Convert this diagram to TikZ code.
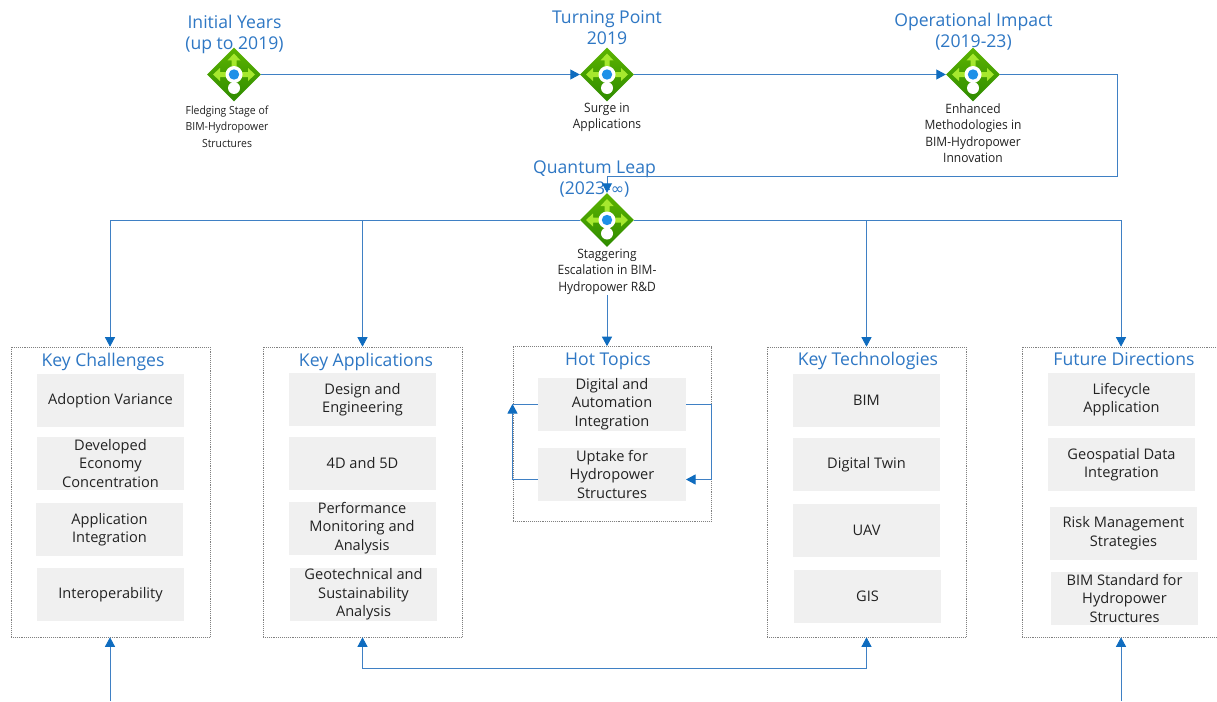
\documentclass[tikz,border=0pt]{standalone}
\usepackage{fontspec}
\setmainfont{Open Sans}
\newfontfamily\symfont{DejaVu Sans}
\newfontfamily\subfont[FakeStretch=0.93]{Open Sans}
\usetikzlibrary{arrows.meta,shapes.geometric}
\definecolor{linkblue}{HTML}{3F80C4}
\definecolor{tipblue}{HTML}{0F6CBF}
\definecolor{headblue}{HTML}{2E77C4}
\definecolor{inkdark}{HTML}{222222}
\definecolor{boxgray}{HTML}{F0F0F0}
\definecolor{frameg}{HTML}{808080}
\definecolor{leafg}{HTML}{A6E82E}
\definecolor{dotblue}{HTML}{1E90E8}
\definecolor{icontop}{HTML}{5CB400}
\definecolor{iconbot}{HTML}{2E8B00}
\tikzset{
  x=1pt,y=-1pt,
  link/.style={draw=linkblue,line width=0.9pt},
  linkarrow/.style={link,-{Triangle[length=9.5pt,width=10pt,color=tipblue]}},
  twoarrow/.style={link,{Triangle[length=9.5pt,width=10pt,color=tipblue]}-{Triangle[length=9.5pt,width=10pt,color=tipblue]}},
  head/.style={text=headblue,font=\fontsize{17.6}{21.5}\selectfont,align=center,inner sep=0pt},
  sub/.style={text=inkdark,font=\subfont\fontsize{11.2}{16.5}\selectfont,align=center,inner sep=0pt},
  bigsub/.style={sub,font=\subfont\fontsize{12.9}{16.5}\selectfont},
  frame/.style={draw=frameg,line width=0.6pt,dash pattern=on 1pt off 0.9pt,minimum width=199pt,inner sep=0pt},
  item/.style={fill=boxgray,text=inkdark,minimum width=147pt,minimum height=53pt,inner sep=0pt,align=center,
    font=\fontsize{14.6}{18.5}\selectfont},
  icon/.style={diamond,aspect=1,minimum width=54pt,minimum height=54pt,inner sep=0pt,
    top color=icontop,bottom color=iconbot,
    path picture={
      \fill[leafg] (-2.5,0) -- (-2.5,-14) -- (-6.5,-14) -- (0,-21) -- (6.5,-14) -- (2.5,-14) -- (2.5,0) -- cycle;
      \fill[leafg] (-14,-2.5) -- (-14,-6.5) -- (-21,0) -- (-14,6.5) -- (-14,2.5) -- (14,2.5) -- (14,6.5) -- (21,0) -- (14,-6.5) -- (14,-2.5) -- cycle;
      \fill[white] (0,0) circle[radius=8.5];
      \fill[white] (-2.2,5) rectangle (2.2,12);
      \fill[white] (0,13.5) circle[radius=6];
      \fill[dotblue] (0,0) circle[radius=5.2];
    }},
}
\begin{document}
\begin{tikzpicture}
\path[clip] (0,0) rectangle (1217,701);
\fill[white] (0,0) rectangle (1217,701);
% headings
\node[head] (h1) at (234.5,34.5) {Initial Years\\(up to 2019)};
\node[head] (h2) at (607,27.5) {Turning Point\\2019};
\node[head] (h3) at (973.5,31.5) {Operational Impact\\(2019-23)};
\node[head] (h4) at (594.5,179) {Quantum Leap\\(2023-{\symfont\fontsize{16}{21.5}\selectfont ∞})};
% sub labels
\node[sub] (s1) at (227,126.5) {Fledging Stage of\\BIM-Hydropower\\Structures};
\node[bigsub] (s2) at (607,117.5) {Surge in\\Applications};
\node[bigsub] (s3) at (973,133) {Enhanced\\Methodologies in\\BIM-Hydropower\\Innovation};
\node[bigsub] (s4) at (607,271.5) {Staggering\\Escalation in BIM-\\Hydropower R\&D};
% frames
\node[frame,minimum height=290pt] (fa) at (110.5,492) {};
\node[frame,minimum height=290pt] (fb) at (362.5,492) {};
\node[frame,minimum height=175pt,minimum width=198pt] (fc) at (612,434) {};
\node[frame,minimum height=290pt] (fd) at (866.5,492) {};
\node[frame,minimum height=290pt] (fe) at (1121.5,492) {};
% frame titles
\node[head] (ta) at (103,362) {Key Challenges};
\node[head] (tb) at (366,362) {Key Applications};
\node[head] (tc) at (608,361) {Hot Topics};
\node[head] (td) at (868,361) {Key Technologies};
\node[head] (te) at (1124,359) {Future Directions};
% items
\node[item] (a1) at (110.5,400.5) {Adoption Variance};
\node[item] (a2) at (110.5,463.5) {Developed\\Economy\\Concentration};
\node[item] (a3) at (109.5,529.5) {Application\\Integration};
\node[item] (a4) at (110.5,594.5) {Interoperability};
\node[item] (b1) at (362.5,399.5) {Design and\\Engineering};
\node[item] (b2) at (362.5,463.5) {4D and 5D};
\node[item] (b3) at (362,528) {Performance\\Monitoring and\\Analysis};
\node[item] (b4) at (363.5,594.5) {Geotechnical and\\Sustainability\\Analysis};
\node[item,minimum width=148pt] (c1) at (612,404) {Digital and\\Automation\\Integration};
\node[item,minimum width=148pt] (c2) at (612,474) {Uptake for\\Hydropower\\Structures};
\node[item] (d1) at (866.5,400.5) {BIM};
\node[item] (d2) at (866.5,464.5) {Digital Twin};
\node[item] (d3) at (866.5,530.5) {UAV};
\node[item] (d4) at (867.5,596) {GIS};
\node[item] (e1) at (1121.5,399.5) {Lifecycle\\Application};
\node[item] (e2) at (1121.5,464.5) {Geospatial Data\\Integration};
\node[item] (e3) at (1123.5,533) {Risk Management\\Strategies};
\node[item] (e4) at (1124.5,598) {BIM Standard for\\Hydropower\\Structures};
% icons
\node[icon] (n1) at (234,74.5) {};
\node[icon] (n2) at (607,74.5) {};
\node[icon] (n3) at (973,74.5) {};
\node[icon] (n4) at (607,220) {};
% free ends and ports
\coordinate (ba) at (110,701);
\coordinate (be) at (1121,701);
\coordinate (jc) at (1117,176);
\coordinate (c2l) at (538,479.5);
\coordinate (c2r) at (686,479.5);
\coordinate (c1l) at (538,404);
\coordinate (c1r) at (686,404);
\coordinate (s4b) at (607,295);
% connectors
\draw[linkarrow] (n1.east) -- (n2.west);
\draw[linkarrow] (n2.east) -- (n3.west);
\draw[linkarrow] (n3.east) -| (jc) -| (n4.north);
\draw[linkarrow] (n4.west) -| (fa.north -| ba);
\draw[linkarrow] (n4.west) -| (fb.north);
\draw[linkarrow] (n4.east) -| (fd.north);
\draw[linkarrow] (n4.east) -| (fe.north -| be);
\draw[linkarrow] (s4b) -- (s4b |- fc.north);
\draw[linkarrow] (ba) -- (fa.south -| ba);
\draw[linkarrow] (be) -- (fe.south -| be);
\draw[twoarrow] (fb.south) |- (866.5,668) -- (fd.south);
\draw[link] (c1l) -- (512.5,404);
\draw[linkarrow] (c2l) -- (512.5,479.5) -- (512.5,404);
\draw[linkarrow] (c1r) -- (711,404) -- (711,479.5) -- (c2r);
\end{tikzpicture}
\end{document}
